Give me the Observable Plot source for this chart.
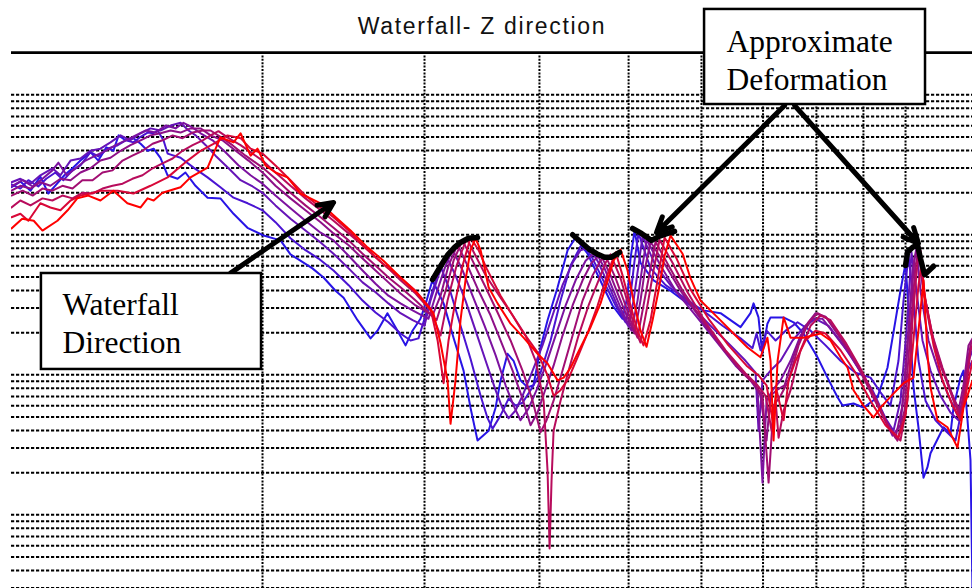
<!DOCTYPE html>
<html><head><meta charset="utf-8">
<script src="https://cdn.jsdelivr.net/npm/d3@7"></script>
<script src="https://cdn.jsdelivr.net/npm/@observablehq/plot@0.6"></script>
<style>
html,body{margin:0;padding:0;background:#fff;}
#chart{width:972px;height:588px;overflow:hidden;}
</style></head><body><div id="chart"></div>
<script>
const title = "Waterfall- Z direction";
const seriesNames = ["Sweep 1","Sweep 2","Sweep 3","Sweep 4","Sweep 5","Sweep 6","Sweep 7","Sweep 8","Sweep 9"];
const seriesColors = ["#2814e6","#4a14d2","#6614b8","#7c12a0","#8e1088","#a20e72","#b80c5c","#d80838","#ff0000"];

// [frequency (Hz), amplitude (dB)]
const run1 = [[106.7,6.8],[109.1,7.6],[111.9,6.3],[114.7,8.3],[117.0,5.9],[119.4,7.2],[121.8,8.5],[124.3,9.5],[126.8,10.6],[130.0,11.8],[132.6,10.6],[135.3,12.5],[137.7,12.0],[139.5,14.2],[141.9,13.5],[144.8,13.8],[147.4,13.0],[150.0,12.0],[152.3,12.3],[154.9,11.0],[157.7,8.5],[161.7,8.0],[164.9,8.9],[169.1,7.0],[174.3,5.3],[180.0,5.2],[186.0,3.0],[192.6,1.0],[200.5,-0.1],[209.2,-0.8],[214.5,-2.8],[219.9,-3.7],[226.6,-4.8],[233.0,-6.1],[240.1,-8.0],[245.0,-9.0],[253.7,-12.2],[262.1,-14.8],[266.7,-13.7],[273.4,-11.2],[280.4,-13.7],[286.1,-15.8],[291.1,-13.7],[297.0,-12.0],[301.6,-9.4],[306.0,-6.5],[314.7,-9.8],[322.6,-14.7],[330.8,-19.4],[336.6,-24.7],[342.6,-29.4],[352.2,-28.0],[358.4,-24.7],[362.9,-20.8],[369.3,-17.0],[374.9,-18.0],[381.5,-20.8],[388.3,-21.8],[394.1,-21.5],[401.1,-16.1],[408.2,-12.2],[418.6,-7.5],[429.2,-2.2],[437.8,-0.4],[451.2,-2.7],[469.6,-7.5],[480.3,-10.1],[492.5,-12.0],[498.7,-8.7],[502.4,-3.4],[507.5,0.6],[515.1,-4.0],[532.2,-6.5],[555.3,-8.0],[579.4,-9.8],[603.1,-10.8],[629.4,-11.2],[661.7,-13.2],[678.4,-11.2],[683.6,-9.8],[692.1,-11.8],[698.7,-17.0],[707.7,-12.7],[713.3,-11.8],[736.9,-11.8],[755.6,-12.5],[774.7,-14.1],[802.2,-17.5],[822.6,-20.4],[843.5,-23.2],[854.2,-24.4],[878.0,-24.1],[900.2,-24.7],[932.2,-23.2],[955.8,-19.0],[975.3,-12.2],[987.4,-8.0],[1000,-4.1],[1012.5,-14.7],[1020.2,-21.8],[1032.9,-27.5],[1046.0,-34.7],[1056.4,-33.2],[1064.5,-31.2],[1099.7,-27.5],[1119.1,-28.4],[1127.5,-24.7],[1147.5,-20.4],[1156.2,-19.4],[1167.9,-26.5],[1176.6,-32.2],[1182.5,-51]];
const run2 = [[106.7,7.2],[109.1,6.6],[111.3,7.8],[114.1,6.9],[116.4,8.0],[119.1,8.9],[121.5,7.8],[124.3,9.2],[126.8,9.9],[130.0,11.8],[132.6,11.2],[135.7,12.3],[139.2,12.8],[142.0,13.5],[144.8,13.2],[147.4,14.0],[150.0,14.6],[152.2,14.5],[153.8,14.9],[156.1,13.5],[157.7,11.6],[162.9,11.0],[168.3,9.6],[174.3,8.2],[180.0,6.8],[186.0,5.3],[192.7,4.5],[200.0,3.5],[206.6,1.8],[214.5,-0.5],[222.7,-2.2],[230.1,-3.4],[238.9,-5.1],[248.1,-7.2],[256.9,-9.4],[265.4,-11.1],[274.1,-12.5],[282.5,-14.1],[289.7,-15.1],[295.5,-14.8],[300.8,-11.5],[306.1,-8.0],[312.3,-4.5],[320.2,-8.2],[328.3,-13.0],[336.6,-17.7],[345.2,-23.0],[351.3,-26.2],[355.7,-27.7],[362.9,-25.8],[370.3,-23.4],[376.8,-24.4],[383.4,-24.0],[391.2,-22.2],[401.1,-19.7],[411.3,-15.1],[421.7,-9.4],[432.4,-4.4],[445.6,-1.1],[456.9,-3.4],[472.0,-7.2],[484.0,-10.1],[496.2,-12.5],[502.4,-8.7],[507.5,-3.7],[512.6,0.2],[528.2,-4.8],[548.5,-7.2],[576.6,-9.1],[606.2,-11.1],[632.6,-13.0],[661.7,-14.8],[681.8,-16.2],[688.7,-14.1],[695.6,-16.5],[706.2,-13.7],[722.4,-15.1],[740.7,-13.7],[763.2,-12.5],[788.4,-13.7],[818.7,-15.8],[849.9,-18.0],[882.4,-19.7],[916.0,-20.4],[939.2,-22.5],[963.0,-24.4],[982.5,-18.0],[994.9,-9.4],[1007.5,-3.0],[1020.2,-9.4],[1033.0,-18.0],[1051.3,-23.7],[1078.0,-26.5],[1105.3,-28.0],[1133.3,-29.4],[1153.3,-24.4],[1167.9,-19.4],[1182.5,-18.0]];
const run3 = [[106.7,7.5],[109.1,8.0],[111.9,7.3],[114.7,8.5],[118.2,9.5],[120.6,8.5],[123.7,10.6],[126.8,10.9],[130.0,12.0],[133.3,12.3],[136.7,13.2],[140.2,14.2],[143.7,13.5],[147.4,14.5],[151.1,15.2],[154.9,14.9],[158.9,15.6],[162.9,16.0],[166.2,14.9],[169.2,14.2],[173.5,12.8],[177.8,11.3],[183.7,9.5],[189.3,7.8],[195.1,6.9],[200.0,6.0],[206.6,4.2],[214.5,2.3],[222.7,0.6],[231.3,-1.1],[238.9,-2.7],[248.1,-4.8],[256.9,-6.8],[265.4,-8.2],[274.1,-9.8],[282.5,-11.2],[291.2,-12.2],[300.0,-13.0],[304.5,-9.4],[310.7,-5.8],[317.0,-3.1],[324.2,-5.8],[332.4,-9.4],[340.9,-13.7],[349.6,-18.0],[358.4,-22.2],[364.7,-24.8],[370.3,-26.2],[376.8,-25.1],[383.4,-23.0],[393.2,-19.4],[403.1,-15.8],[413.4,-11.5],[423.8,-7.2],[434.6,-4.0],[443.3,-2.2],[453.5,-1.8],[463.8,-4.0],[475.5,-7.2],[487.6,-10.5],[499.9,-13.1],[506.2,-9.4],[512.6,-4.4],[517.7,-0.2],[534.9,-4.4],[555.3,-7.2],[583.8,-10.1],[613.8,-13.0],[645.3,-15.8],[670.0,-18.0],[687.0,-19.7],[692.2,-28.0],[699.1,-20.8],[713.3,-19.4],[731.4,-18.0],[753.7,-15.1],[778.6,-13.0],[798.4,-12.0],[824.8,-13.0],[856.4,-15.8],[889.0,-19.1],[920.6,-22.2],[951.1,-26.2],[970.3,-28.0],[987.4,-23.7],[1002.5,-13.7],[1015.1,-2.5],[1027.9,-8.0],[1043.4,-15.1],[1064.5,-19.4],[1091.4,-23.0],[1119.1,-25.4],[1141.8,-26.5],[1159.1,-22.2],[1170.8,-18.0],[1182.5,-16.5]];
const run4 = [[106.7,6.9],[109.7,7.8],[112.5,6.9],[115.3,8.0],[118.2,9.2],[120.0,10.3],[122.5,8.5],[125.3,9.5],[128.4,10.6],[131.7,11.3],[135.0,12.0],[138.5,12.8],[142.0,13.5],[145.6,14.2],[149.3,14.9],[153.0,14.6],[156.9,15.6],[160.9,15.2],[164.1,16.0],[167.0,15.5],[171.3,14.5],[176.5,13.5],[182.3,11.8],[188.4,9.9],[194.1,8.5],[200.0,7.3],[206.6,5.6],[214.5,3.8],[222.7,2.0],[231.3,0.3],[238.9,-0.8],[248.1,-3.0],[256.9,-5.1],[265.4,-7.0],[274.1,-8.7],[282.5,-9.8],[291.2,-10.8],[303.0,-12.0],[308.4,-8.7],[315.5,-4.8],[321.8,-2.1],[330.0,-5.1],[338.3,-8.7],[348.7,-13.0],[358.4,-17.2],[367.5,-21.5],[374.9,-24.4],[381.5,-26.5],[389.3,-24.8],[397.1,-22.2],[406.2,-18.7],[416.5,-14.4],[427.1,-10.1],[437.9,-6.5],[449.0,-3.7],[460.4,-2.4],[470.8,-4.8],[481.5,-8.0],[492.5,-11.1],[503.7,-13.7],[511.3,-9.4],[517.7,-4.4],[523.0,-0.7],[541.6,-4.4],[562.4,-8.0],[591.2,-11.5],[621.6,-15.1],[653.5,-18.7],[678.4,-20.8],[690.4,-22.2],[699.1,-35.4],[706.2,-23.7],[716.9,-22.2],[731.4,-20.8],[749.9,-18.0],[768.9,-14.4],[792.4,-12.0],[812.5,-12.0],[839.4,-14.4],[871.4,-17.2],[904.7,-20.8],[939.2,-25.1],[967.9,-28.7],[987.4,-27.2],[1002.5,-18.0],[1017.6,-5.1],[1027.9,-1.8],[1038.1,-8.0],[1059.2,-15.1],[1086.0,-19.4],[1113.6,-23.0],[1139.0,-25.8],[1156.2,-23.7],[1170.8,-17.2],[1182.5,-15.8]];
const run5 = [[106.7,6.3],[109.1,7.0],[111.9,6.6],[114.7,7.5],[117.6,7.0],[120.6,8.0],[123.7,7.8],[126.8,8.9],[130.0,9.5],[133.3,10.6],[136.7,11.0],[140.2,12.0],[143.7,12.8],[147.4,13.5],[151.1,14.2],[154.9,14.5],[158.9,14.9],[162.9,14.6],[167.0,15.2],[171.3,15.2],[175.6,14.2],[180.9,13.5],[187.0,12.0],[193.1,10.6],[200.0,8.9],[206.6,7.0],[214.5,5.2],[222.7,3.5],[231.3,1.8],[238.9,0.2],[248.1,-1.5],[256.9,-3.4],[265.4,-5.1],[274.1,-6.8],[282.5,-8.4],[293.4,-10.1],[306.1,-11.5],[312.3,-8.7],[318.6,-4.4],[325.9,-1.4],[334.1,-4.4],[343.5,-8.0],[353.9,-11.5],[364.7,-15.8],[374.0,-19.4],[383.4,-23.4],[391.2,-27.2],[398.1,-25.4],[406.2,-22.0],[414.4,-18.7],[423.8,-14.4],[434.6,-10.1],[445.6,-6.5],[455.8,-4.0],[466.1,-2.8],[477.9,-5.8],[490.0,-9.4],[499.9,-12.2],[507.5,-14.1],[515.1,-9.4],[521.7,-4.4],[528.2,-1.0],[548.5,-4.4],[569.4,-8.0],[598.6,-12.0],[629.4,-15.8],[661.7,-19.4],[683.6,-21.2],[695.6,-23.0],[706.2,-29.4],[713.3,-23.0],[724.2,-22.2],[738.8,-21.5],[759.4,-16.5],[778.6,-13.0],[798.4,-11.2],[818.7,-11.7],[849.9,-14.8],[882.4,-18.0],[916.0,-22.2],[951.1,-26.5],[975.2,-29.0],[992.4,-24.4],[1007.5,-13.7],[1022.7,-3.4],[1033.0,-1.5],[1043.4,-7.2],[1064.5,-13.7],[1091.4,-18.7],[1119.1,-22.2],[1141.8,-25.1],[1156.2,-21.5],[1170.8,-15.8],[1182.5,-14.8]];
const run6 = [[106.7,5.6],[109.7,6.3],[112.5,5.6],[115.3,6.6],[118.2,6.3],[121.2,7.0],[124.3,6.6],[127.4,7.8],[130.7,7.8],[134.0,8.9],[137.4,9.2],[140.9,10.6],[144.4,11.3],[148.1,12.0],[151.9,13.0],[155.7,13.5],[159.7,14.2],[163.7,13.8],[167.9,14.6],[172.2,14.9],[175.6,14.9],[180.0,14.0],[185.5,12.8],[191.7,11.3],[200.0,9.6],[206.6,8.0],[214.5,6.0],[222.7,4.2],[231.3,2.5],[238.9,1.0],[248.1,-0.8],[256.9,-2.7],[265.4,-4.4],[274.1,-6.1],[282.5,-7.5],[293.4,-9.4],[303.0,-11.1],[309.2,-12.2],[316.3,-8.0],[322.6,-3.7],[330.0,-0.8],[338.3,-3.7],[348.7,-7.2],[360.2,-11.1],[372.1,-15.1],[383.4,-19.4],[393.2,-23.7],[401.1,-28.2],[407.2,-26.5],[414.4,-23.7],[423.8,-19.4],[434.6,-14.4],[445.6,-9.4],[456.9,-5.8],[466.1,-3.7],[472.0,-3.0],[484.0,-6.2],[496.2,-10.1],[504.9,-13.0],[511.3,-14.7],[519.0,-10.1],[528.2,-4.8],[534.9,-1.0],[552.6,-4.4],[573.7,-8.2],[601.6,-12.2],[632.6,-16.2],[665.0,-19.7],[687.0,-21.5],[699.1,-23.0],[709.8,-35.4],[718.7,-24.4],[731.4,-23.0],[746.2,-20.8],[765.1,-15.8],[784.5,-12.5],[802.4,-11.2],[822.8,-12.0],[854.2,-15.1],[886.8,-18.7],[920.6,-23.0],[955.9,-27.2],[980.1,-29.4],[997.4,-25.1],[1012.5,-13.7],[1025.3,-4.4],[1035.5,-1.7],[1046.0,-8.0],[1069.9,-14.4],[1097.0,-19.0],[1124.8,-23.0],[1147.5,-25.4],[1162.1,-20.8],[1176.6,-15.8],[1182.5,-15.1]];
const run7 = [[106.7,3.9],[109.1,4.9],[111.9,4.2],[115.3,5.2],[118.2,4.9],[121.2,5.6],[124.3,5.2],[127.4,6.0],[130.7,5.9],[134.0,6.6],[137.4,7.0],[140.9,7.3],[144.4,8.0],[148.1,8.5],[151.9,9.5],[155.7,10.2],[159.7,10.9],[163.7,12.0],[167.9,12.8],[172.2,13.5],[175.6,14.2],[179.1,14.8],[183.7,13.8],[189.3,12.8],[194.1,11.8],[200.0,10.6],[206.6,8.9],[214.5,7.0],[222.7,5.2],[231.3,3.5],[238.9,2.0],[248.1,0.2],[256.9,-1.5],[265.4,-3.2],[274.1,-4.8],[282.5,-6.5],[293.4,-8.4],[304.5,-10.8],[312.3,-14.4],[317.8,-9.4],[325.1,-4.4],[333.3,-0.5],[340.9,-3.0],[349.6,-5.8],[362.9,-9.0],[374.0,-11.5],[386.4,-14.4],[396.2,-18.0],[404.2,-23.7],[408.2,-33.7],[410.3,-44.8],[412.3,-35.1],[414.4,-28.0],[421.7,-23.7],[430.3,-19.4],[441.1,-14.4],[452.3,-10.1],[463.8,-6.5],[472.0,-4.0],[477.9,-2.8],[490.0,-6.2],[499.9,-10.1],[508.8,-13.7],[515.1,-15.4],[523.0,-10.8],[532.2,-5.1],[540.3,-0.7],[558.1,-4.0],[579.5,-8.2],[606.2,-12.5],[637.4,-16.5],[670.0,-19.8],[690.4,-21.5],[704.5,-23.0],[715.1,-28.0],[722.4,-23.7],[727.8,-29.0],[737.0,-25.1],[749.9,-22.2],[768.9,-16.5],[788.4,-13.0],[808.4,-11.5],[828.9,-12.2],[860.7,-15.4],[893.4,-19.1],[927.6,-23.4],[963.0,-28.0],[987.4,-29.4],[1005.0,-23.7],[1017.6,-12.2],[1030.4,-4.0],[1038.1,-2.2],[1048.7,-8.7],[1072.6,-15.1],[1099.7,-19.7],[1127.6,-23.7],[1147.5,-26.2],[1165.0,-21.5],[1176.6,-16.5],[1182.5,-15.8]];
const run8 = [[106.7,2.5],[109.1,3.0],[111.3,2.0],[114.7,4.5],[117.6,3.9],[120.6,3.5],[123.7,4.9],[126.8,5.6],[130.0,5.9],[133.3,6.3],[139.2,6.3],[144.8,5.9],[151.1,7.0],[157.7,8.2],[165.8,10.6],[171.3,12.0],[176.9,13.0],[183.2,14.2],[189.3,13.8],[194.1,12.3],[200.0,11.6],[206.6,9.9],[214.5,7.8],[222.7,5.6],[231.3,3.9],[238.9,2.5],[248.1,0.6],[256.9,-1.5],[265.4,-3.2],[274.1,-4.8],[282.5,-6.1],[293.4,-8.0],[304.5,-10.5],[310.0,-15.1],[314.7,-21.2],[318.6,-15.1],[324.2,-9.4],[330.0,-4.4],[336.6,-0.4],[343.5,-2.2],[350.4,-4.8],[362.9,-8.7],[381.5,-13.4],[398.1,-16.8],[408.2,-20.1],[414.4,-23.0],[421.7,-22.2],[430.3,-20.5],[441.1,-17.2],[452.3,-13.7],[462.7,-10.1],[472.0,-6.5],[479.1,-4.0],[484.0,-2.5],[492.5,-5.8],[502.4,-10.1],[511.3,-13.7],[519.0,-15.8],[528.2,-12.2],[537.6,-6.5],[547.1,-0.4],[563.8,-3.4],[583.8,-7.8],[610.8,-12.0],[642.1,-15.8],[671.7,-18.7],[692.2,-20.1],[706.2,-21.5],[716.9,-26.5],[724.2,-22.2],[737.0,-26.5],[746.2,-20.8],[759.4,-18.0],[778.6,-15.1],[798.4,-13.7],[818.7,-14.1],[849.9,-16.5],[882.4,-19.7],[916.0,-23.7],[951.1,-27.2],[982.5,-29.0],[1000.0,-25.8],[1017.6,-16.5],[1033.0,-7.2],[1040.7,-4.4],[1051.3,-9.4],[1072.6,-15.8],[1097.0,-20.8],[1124.8,-24.4],[1147.5,-26.5],[1165.0,-22.2],[1182.5,-18.0]];
const run9 = [[106.7,0.9],[109.6,2.3],[112.8,2.0],[115.3,0.6],[119.7,2.0],[122.8,3.5],[125.8,5.2],[129.3,5.6],[133.3,4.9],[137.7,6.3],[142.6,4.5],[147.4,3.9],[150.0,5.2],[152.3,4.9],[155.7,6.0],[162.9,6.8],[167.0,8.2],[174.3,9.6],[180.0,13.9],[186.0,13.2],[189.3,14.5],[194.1,11.3],[197.5,12.3],[201.5,9.9],[206.6,8.9],[212.9,8.2],[219.9,5.9],[231.3,4.5],[238.9,2.8],[249.3,0.6],[260.1,-1.8],[270.7,-3.7],[282.5,-6.1],[294.8,-8.4],[306.8,-11.2],[312.3,-15.5],[317.8,-20.8],[320.2,-27.0],[324.2,-20.8],[328.3,-12.2],[332.4,-6.5],[336.6,-2.2],[340.9,-0.5],[345.2,-2.2],[347.8,-4.1],[352.2,-7.5],[360.2,-9.8],[372.1,-12.7],[384.4,-14.7],[398.1,-17.0],[408.2,-18.4],[418.6,-20.8],[425.0,-20.4],[432.4,-19.0],[443.3,-16.1],[454.6,-13.2],[466.1,-9.8],[474.6,-6.5],[481.5,-3.7],[490.0,-2.1],[498.7,-5.1],[506.2,-9.4],[515.1,-13.7],[523.0,-16.0],[530.9,-12.2],[538.9,-8.0],[547.1,-3.0],[555.3,-0.1],[572.3,-2.7],[583.8,-6.2],[598.6,-9.4],[624.7,-11.8],[650.2,-14.1],[673.4,-16.1],[695.6,-17.5],[707.7,-14.7],[713.3,-18.0],[718.7,-29.4],[726.0,-18.0],[737.0,-11.8],[749.9,-14.7],[774.7,-14.7],[808.4,-14.1],[828.9,-15.1],[849.9,-17.5],[865.1,-19.0],[878.0,-22.2],[900.2,-24.4],[923.0,-26.1],[939.2,-24.7],[970.2,-22.7],[995.0,-21.2],[1020.2,-20.4],[1032.9,-13.7],[1046.0,-6.5],[1056.4,-17.0],[1064.5,-21.8],[1083.3,-26.5],[1110.7,-27.5],[1139.0,-30.4],[1156.2,-24.7],[1182.5,-20.8]];

// annotation outlines ("Approximate Deformation")
const deform1 = [[306.1,-6.4],[312.3,-4.5],[317.8,-2.9],[323.4,-1.8],[328.3,-1.1],[334.9,-0.5],[342.6,-0.4]];
const deform2 = [[434.6,0.0],[443.3,-1.0],[452.3,-2.0],[461.5,-2.7],[470.8,-3.2],[479.1,-3.2],[488.8,-2.5]];
const deform3 = [[504.9,0.9],[516.4,0.2],[529.5,-0.8],[540.3,-0.2],[551.2,0.2],[560.9,0.5]];
const deform4 = [[1000,-4.4],[1005.0,-2.5],[1017.6,-1.8],[1030.4,-1.4],[1038.1,-3.4],[1048.7,-5.7],[1072.6,-4.5]];
const arrows = [
  {x1:184.6, y1:-5.47, x2:238.9, y2:4.61},
  {x1:738.8, y1:18.47, x2:536.2, y2:0.33},
  {x1:757.5, y1:18.47, x2:1033.0, y2:-1.24}
];
const boxes = [
  {label:"Approximate\nDeformation", x1:604.7, x2:1051.3, y1:32.19, y2:18.61, tx:639.0, ty:25.17},
  {label:"Waterfall\nDirection", x1:115.0, x2:199.5, y1:-5.53, y2:-19.24, tx:121.2, ty:-12.44}
];

// grid
const freqGrid = [200,300,400,500,600,700,800,900,1000];
const decadeBases = [20,0,-20,-40,-60];
const multipliers = [1,2,3,4,5,6,7,8,9];
const yDomain = [-50.53, 26.04];
const topLevel = 26.02;

const runs = [run1,run2,run3,run4,run5,run6,run7,run8,run9];
const rows = runs.flatMap((r,i) => r.map(([f,db]) => ({series: seriesNames[i], f, db})));
const deformRows = [deform1,deform2,deform3,deform4].flatMap((d,i) => d.map(([f,db]) => ({k:i, f, db})));
const yGrid = decadeBases.flatMap(b => multipliers.map(m => b + 20*Math.log10(m)))
  .filter(v => v > yDomain[0] && v < 25.9);

const chart = Plot.plot({
  width: 972, height: 588,
  marginTop: 52, marginLeft: 11, marginRight: 0, marginBottom: 0,
  x: {type: "log", domain: [106.7, 1182.5], axis: null},
  y: {domain: yDomain, axis: null},
  color: {type: "ordinal", domain: seriesNames, range: seriesColors},
  style: {background: "white"},
  marks: [
    Plot.ruleY(yGrid, {stroke: "#000", strokeWidth: 2, strokeDasharray: "3.2,1.8"}),
    Plot.ruleX(freqGrid, {stroke: "#000", strokeWidth: 2, strokeDasharray: "2,1.4"}),
    Plot.ruleY([topLevel], {stroke: "#000", strokeWidth: 2.8}),
    Plot.line(rows, {x: "f", y: "db", z: "series", stroke: "series", strokeWidth: 2, clip: true}),
    Plot.line(deformRows, {x: "f", y: "db", z: "k", stroke: "#000", strokeWidth: 5.5, strokeLinejoin: "round"}),
    Plot.arrow(arrows, {x1: "x1", y1: "y1", x2: "x2", y2: "y2", stroke: "#000", strokeWidth: 5, headLength: 5, headAngle: 50}),
    Plot.rect(boxes, {x1: "x1", x2: "x2", y1: "y1", y2: "y2", fill: "#fff", stroke: "#000", strokeWidth: 2.5}),
    Plot.text(boxes, {x: "tx", y: "ty", text: "label", textAnchor: "start", lineAnchor: "middle", lineHeight: 1.22, fontFamily: "Liberation Serif, Times New Roman, serif", fontSize: 31.5, fill: "#000"}),
    Plot.text([title], {frameAnchor: "top", dx: -10, dy: -26, lineAnchor: "middle", fontFamily: "Liberation Sans, Arial, sans-serif", fontSize: 23, fill: "#111"})
  ]
});
d3.select(chart).selectAll("text").filter(function(){ return this.textContent === title; }).style("letter-spacing", "1.7px");
document.getElementById("chart").appendChild(chart);
</script></body></html>
